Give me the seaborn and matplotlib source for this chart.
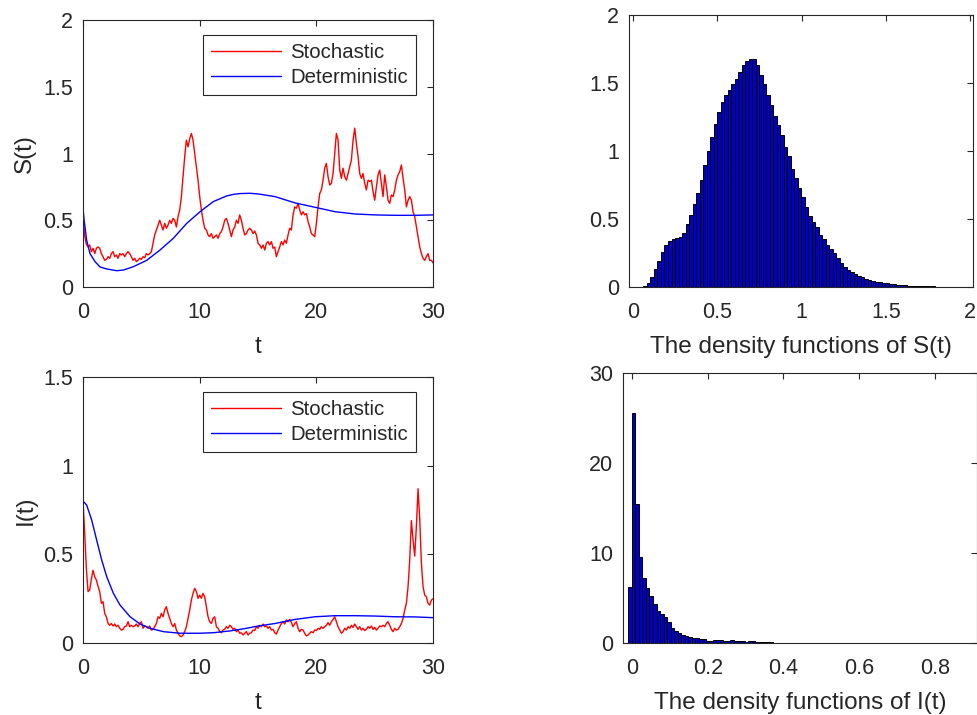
import numpy as np
import pandas as pd
import matplotlib
matplotlib.use("Agg")
import matplotlib.pyplot as plt
from matplotlib.ticker import FuncFormatter
import seaborn as sns

# stochastic paths, sampled every 1/7 time unit from t=0 to t=30
STOCH_DT = 1 / 7
S_STOCH = [
    0.53, 0.38, 0.32, 0.30, 0.315, 0.265, 0.29, 0.25, 0.29, 0.30,
    0.29, 0.25, 0.227, 0.20, 0.207, 0.227, 0.215, 0.25, 0.265, 0.227,
    0.24, 0.215, 0.25, 0.24, 0.25, 0.227, 0.25, 0.265, 0.25, 0.227,
    0.20, 0.215, 0.19, 0.20, 0.215, 0.207, 0.227, 0.22, 0.25, 0.24,
    0.25, 0.265, 0.327, 0.39, 0.427, 0.464, 0.50, 0.464, 0.427, 0.477,
    0.44, 0.464, 0.50, 0.477, 0.514, 0.50, 0.45, 0.527, 0.577, 0.677,
    0.826, 0.976, 1.10, 1.05, 1.11, 1.15, 1.10, 1.0, 0.90, 0.80,
    0.677, 0.577, 0.50, 0.44, 0.427, 0.39, 0.377, 0.40, 0.365, 0.377,
    0.39, 0.365, 0.40, 0.414, 0.45, 0.50, 0.514, 0.477, 0.427, 0.377,
    0.427, 0.45, 0.50, 0.477, 0.54, 0.50, 0.44, 0.39, 0.40, 0.427,
    0.44, 0.427, 0.40, 0.42, 0.39, 0.327, 0.315, 0.29, 0.315, 0.277,
    0.327, 0.34, 0.315, 0.34, 0.29, 0.30, 0.227, 0.265, 0.30, 0.34,
    0.315, 0.352, 0.327, 0.39, 0.44, 0.427, 0.54, 0.60, 0.59, 0.627,
    0.577, 0.54, 0.564, 0.54, 0.55, 0.49, 0.45, 0.40, 0.39, 0.377,
    0.477, 0.60, 0.70, 0.727, 0.80, 0.89, 0.926, 0.826, 0.764, 0.777,
    0.85, 1.0, 1.15, 1.10, 0.876, 0.814, 0.89, 0.826, 0.80, 0.85,
    0.90, 0.95, 1.10, 1.19, 1.076, 0.976, 0.85, 0.814, 0.85, 0.777,
    0.727, 0.80, 0.79, 0.80, 0.714, 0.65, 0.75, 0.84, 0.876, 0.777,
    0.677, 0.84, 0.75, 0.65, 0.627, 0.69, 0.677, 0.727, 0.80, 0.84,
    0.864, 0.914, 0.814, 0.727, 0.60, 0.65, 0.677, 0.65, 0.564, 0.527,
    0.45, 0.377, 0.30, 0.25, 0.215, 0.20, 0.227, 0.25, 0.20, 0.20,
    0.18,
]
I_STOCH = [
    0.797, 0.62, 0.42, 0.29, 0.30, 0.36, 0.41, 0.374, 0.355, 0.32,
    0.29, 0.224, 0.233, 0.167, 0.148, 0.11, 0.10, 0.11, 0.096, 0.107,
    0.092, 0.10, 0.083, 0.073, 0.077, 0.092, 0.096, 0.12, 0.092, 0.10,
    0.092, 0.096, 0.107, 0.092, 0.11, 0.12, 0.083, 0.096, 0.092, 0.083,
    0.096, 0.073, 0.077, 0.092, 0.11, 0.148, 0.139, 0.167, 0.148, 0.186,
    0.205, 0.167, 0.139, 0.11, 0.092, 0.11, 0.073, 0.055, 0.04, 0.036,
    0.045, 0.064, 0.092, 0.139, 0.186, 0.242, 0.28, 0.308, 0.29, 0.252,
    0.27, 0.252, 0.28, 0.26, 0.205, 0.148, 0.12, 0.11, 0.139, 0.148,
    0.092, 0.083, 0.064, 0.058, 0.073, 0.077, 0.092, 0.083, 0.10, 0.092,
    0.077, 0.083, 0.064, 0.073, 0.055, 0.058, 0.045, 0.055, 0.064, 0.045,
    0.055, 0.058, 0.073, 0.07, 0.092, 0.083, 0.10, 0.092, 0.107, 0.092,
    0.096, 0.083, 0.092, 0.073, 0.077, 0.058, 0.05, 0.073, 0.092, 0.11,
    0.12, 0.107, 0.13, 0.12, 0.133, 0.115, 0.092, 0.11, 0.12, 0.083,
    0.064, 0.077, 0.073, 0.055, 0.04, 0.045, 0.055, 0.064, 0.058, 0.073,
    0.07, 0.083, 0.077, 0.092, 0.083, 0.092, 0.10, 0.115, 0.10, 0.12,
    0.133, 0.148, 0.12, 0.092, 0.073, 0.055, 0.064, 0.083, 0.073, 0.092,
    0.083, 0.10, 0.088, 0.107, 0.092, 0.077, 0.092, 0.073, 0.083, 0.07,
    0.077, 0.092, 0.083, 0.096, 0.077, 0.088, 0.073, 0.083, 0.096, 0.092,
    0.10, 0.092, 0.11, 0.12, 0.10, 0.077, 0.064, 0.083, 0.073, 0.077,
    0.092, 0.11, 0.139, 0.186, 0.224, 0.318, 0.468, 0.69, 0.58, 0.49,
    0.66, 0.87, 0.70, 0.45, 0.318, 0.27, 0.26, 0.224, 0.214, 0.242,
    0.25,
]

# deterministic solutions
S_DET_T = [0, 0.09, 0.17, 0.31, 0.6, 1.03, 1.46, 2.03, 2.89, 3.46, 4.31, 5.46,
           6.6, 7.74, 8.89, 10.03, 11.17, 12.31, 12.9, 13.46, 14.31, 15.03, 16.46,
           18.17, 19.89, 21.6, 23.31, 25.03, 26.74, 28.46, 30]
S_DET = [0.59, 0.50, 0.45, 0.35, 0.25, 0.19, 0.15, 0.135, 0.122, 0.127, 0.152,
         0.20, 0.277, 0.365, 0.477, 0.564, 0.64, 0.682, 0.694, 0.70, 0.702, 0.697,
         0.677, 0.63, 0.597, 0.564, 0.547, 0.54, 0.537, 0.537, 0.54]
I_DET_T = [0, 0.31, 0.74, 1.17, 1.6, 2.03, 2.6, 3.17, 4.03, 4.89, 5.74, 6.89,
           8.31, 10.03, 11.17, 12.6, 14.03, 15.03, 16.46, 18.17, 19.89, 21.6,
           23.31, 25.03, 26.74, 28.46, 30]
I_DET = [0.80, 0.778, 0.694, 0.58, 0.468, 0.374, 0.28, 0.214, 0.148, 0.107,
         0.083, 0.064, 0.055, 0.055, 0.058, 0.068, 0.083, 0.096, 0.11, 0.133,
         0.148, 0.154, 0.154, 0.152, 0.148, 0.147, 0.143]

# density histograms (pdf heights per bin)
S_BIN_START, S_BIN_WIDTH = 0.0415, 0.0208
S_DENSITY = [
    0.0, 0.01, 0.03, 0.075, 0.13, 0.19, 0.26, 0.31, 0.34, 0.35,
    0.36, 0.37, 0.40, 0.46, 0.53, 0.61, 0.69, 0.79, 0.90, 1.00,
    1.10, 1.20, 1.29, 1.36, 1.41, 1.45, 1.49, 1.53, 1.58, 1.63,
    1.66, 1.68, 1.675, 1.63, 1.56, 1.49, 1.41, 1.34, 1.26, 1.19,
    1.12, 1.03, 0.96, 0.87, 0.80, 0.73, 0.66, 0.59, 0.52, 0.48,
    0.44, 0.38, 0.35, 0.31, 0.28, 0.25, 0.21, 0.18, 0.15, 0.125,
    0.11, 0.093, 0.08, 0.07, 0.06, 0.05, 0.045, 0.04, 0.035, 0.03,
    0.027, 0.024, 0.02, 0.017, 0.015, 0.012, 0.01, 0.009, 0.008, 0.007,
    0.006, 0.005, 0.004, 0.004, 0.003, 0.003, 0.002, 0.002, 0.002, 0.001,
    0.001, 0.001,
]
I_BIN_START, I_BIN_WIDTH = -0.0097, 0.0093
I_DENSITY = [
    6.26, 25.6, 15.4, 9.6, 7.2, 6.15, 5.2, 4.33, 3.6, 3.2,
    2.9, 2.3, 1.7, 1.37, 1.15, 0.85, 0.78, 0.7, 0.55, 0.52,
    0.44, 0.4, 0.26, 0.22, 0.33, 0.37, 0.3, 0.22, 0.26, 0.3,
    0.26, 0.22, 0.18, 0.15, 0.18, 0.22, 0.15, 0.1, 0.08, 0.07,
    0.06, 0.05, 0.04,
]

AXIS_GRAY = "#262626"
RED = "#ff0000"
BLUE = "#0000ff"
BAR_BLUE = "#0000c8"
TICK_FS = 15.5
LABEL_FS = 17.5
LEGEND_FS = 14.7

sns.set_style("white")
plt.rcParams["font.family"] = ["Liberation Sans", "DejaVu Sans"]
plt.rcParams["font.size"] = TICK_FS
plt.rcParams["axes.linewidth"] = 0.8

fmt = FuncFormatter(lambda v, _: f"{v:g}")


def matlab_axes(ax, xlim, ylim, xticks, yticks, xlabel, ylabel=None):
    ax.set_xlim(*xlim)
    ax.set_ylim(*ylim)
    ax.set_xticks(xticks)
    ax.set_yticks(yticks)
    ax.xaxis.set_major_formatter(fmt)
    ax.yaxis.set_major_formatter(fmt)
    for sp in ax.spines.values():
        sp.set_visible(True)
        sp.set_color(AXIS_GRAY)
        sp.set_linewidth(0.8)
    ax.tick_params(direction="in", top=True, right=True, length=4, width=0.8,
                   colors=AXIS_GRAY, labelcolor=AXIS_GRAY, labelsize=TICK_FS)
    ax.tick_params(axis="x", pad=10.5)
    ax.tick_params(axis="y", pad=7)
    ax.set_xlabel(xlabel, fontsize=LABEL_FS, color=AXIS_GRAY, labelpad=9.5)
    ax.set_ylabel(ylabel or "", fontsize=LABEL_FS, color=AXIS_GRAY, labelpad=5)


def path_panel(ax, stoch, det_t, det, ylim, yticks, ylabel):
    t = np.arange(len(stoch)) * STOCH_DT
    sns.lineplot(x=t, y=stoch, color=RED, linewidth=1.0, label="Stochastic", ax=ax)
    sns.lineplot(x=det_t, y=det, color=BLUE, linewidth=1.0, label="Deterministic", ax=ax)
    matlab_axes(ax, (0, 30), ylim, [0, 10, 20, 30], yticks, "t", ylabel)
    leg = ax.legend(loc="upper right", bbox_to_anchor=(0.951, 0.944), borderaxespad=0,
                    fancybox=False, framealpha=1, edgecolor=AXIS_GRAY, fontsize=LEGEND_FS,
                    handlelength=3.4, handletextpad=0.45, labelspacing=0.3, borderpad=0.4)
    leg.get_frame().set_linewidth(0.8)
    for txt in leg.get_texts():
        txt.set_color(AXIS_GRAY)


def density_panel(ax, heights, start, width, xlim, ylim, xticks, yticks, xlabel):
    edges = start + width * np.arange(len(heights) + 1)
    table = pd.DataFrame({
        "value": (edges[:-1] + edges[1:]) / 2,
        "density": heights,
    })
    sns.histplot(data=table, x="value", weights="density", bins=list(edges),
                 stat="count", color=BAR_BLUE, edgecolor="black", linewidth=0.7,
                 alpha=1, ax=ax)
    matlab_axes(ax, xlim, ylim, xticks, yticks, xlabel)


fig = plt.figure(figsize=(9.78, 7.15), dpi=100)
ax_s = fig.add_axes([0.0849, 0.5986, 0.3579, 0.3734])
ax_sd = fig.add_axes([0.6431, 0.5986, 0.3517, 0.3804])
ax_i = fig.add_axes([0.0849, 0.1007, 0.3579, 0.3720])
ax_id = fig.add_axes([0.6370, 0.1007, 0.3620, 0.3776])

path_panel(ax_s, S_STOCH, S_DET_T, S_DET, (0, 2), [0, 0.5, 1, 1.5, 2], "S(t)")
path_panel(ax_i, I_STOCH, I_DET_T, I_DET, (0, 1.5), [0, 0.5, 1, 1.5], "I(t)")
density_panel(ax_sd, S_DENSITY, S_BIN_START, S_BIN_WIDTH, (-0.0237, 2.016), (0, 2),
              [0, 0.5, 1, 1.5, 2], [0, 0.5, 1, 1.5, 2], "The density functions of S(t)")
density_panel(ax_id, I_DENSITY, I_BIN_START, I_BIN_WIDTH, (-0.0238, 0.911), (0, 30),
              [0, 0.2, 0.4, 0.6, 0.8], [0, 10, 20, 30], "The density functions of I(t)")

fig.savefig("out.png", dpi=100)
